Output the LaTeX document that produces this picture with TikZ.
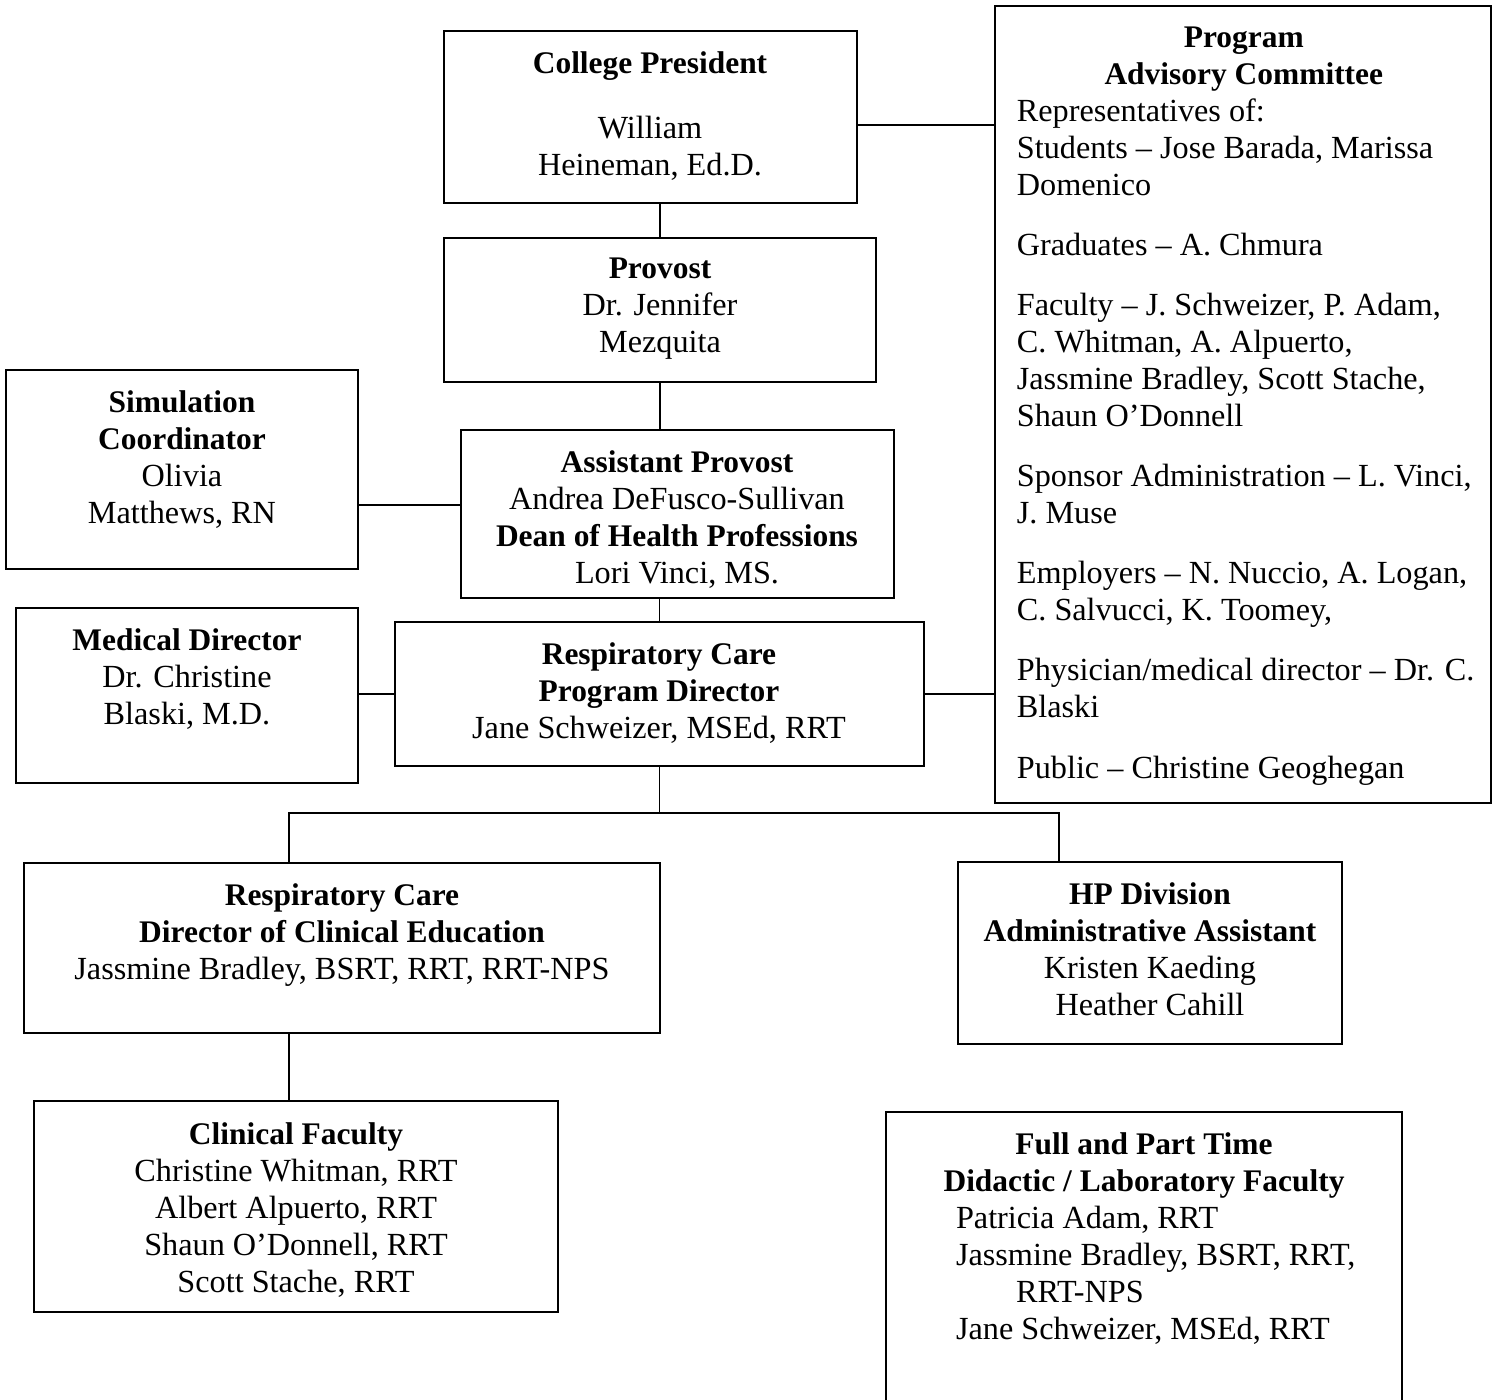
\documentclass[tikz,border=0pt]{standalone}
\usepackage{fontspec}
\setmainfont{Liberation Serif}[UprightFeatures={Scale=1.025}]
\begin{document}
\begin{tikzpicture}
  [x=0.02cm,y=-0.02cm,line width=1pt,
   box/.style={draw,inner sep=0pt},
   txt/.style={align=center,anchor=north,inner sep=0pt,font=\fontsize{17.9}{21}\selectfont}]
  \useasboundingbox (0,0) rectangle (1495,1400);
  \clip (0,0) rectangle (1495,1400);

  % boxes
  \node[box,minimum width=8.26cm,minimum height=3.44cm] (pres) at (650.5,117) {};
  \node[box,minimum width=9.92cm,minimum height=15.94cm] (pac) at (1243,404.5) {};
  \node[box,minimum width=8.64cm,minimum height=2.88cm] (prov) at (660,310) {};
  \node[box,minimum width=7.04cm,minimum height=3.98cm] (sim) at (182,469.5) {};
  \node[box,minimum width=8.66cm,minimum height=3.36cm] (ap) at (677.5,514) {};
  \node[box,minimum width=6.84cm,minimum height=3.5cm] (med) at (187,695.5) {};
  \node[box,minimum width=10.58cm,minimum height=2.88cm] (rcpd) at (659.5,694) {};
  \node[box,minimum width=12.72cm,minimum height=3.4cm] (dce) at (342,948) {};
  \node[box,minimum width=7.68cm,minimum height=3.64cm] (hp) at (1150,953) {};
  \node[box,minimum width=10.48cm,minimum height=4.22cm] (cf) at (296,1206.5) {};
  \node[box,minimum width=10.32cm,minimum height=5.96cm] (fpt) at (1144,1261) {};

  % texts
  \node[txt] (prest) at (650,51) {\textbf{College President}\\[15.9pt]William\\Heineman, Ed.D.};
  \node[txt,anchor=north west,align=flush left,text width=9.4cm] (pact) at (1016,26)
    {\makebox[9.08cm]{\textbf{Program}}\\
     \makebox[9.08cm]{\textbf{Advisory Committee}}\\
     Representatives of:\\
     Students – Jose Barada, Marissa\\
     Domenico\\[13.3pt]
     Graduates – A. Chmura\\[13.3pt]
     Faculty – J. Schweizer, P. Adam,\\
     C. Whitman, A. Alpuerto,\\
     Jassmine Bradley, Scott Stache,\\
     Shaun O’Donnell\\[13.3pt]
     Sponsor Administration – L. Vinci,\\
     J. Muse\\[13.3pt]
     Employers – N. Nuccio, A. Logan,\\
     C. Salvucci, K. Toomey,\\[13.3pt]
     Physician/medical director – Dr. C.\\
     Blaski\\[13.3pt]
     Public – Christine Geoghegan};
  \node[txt] (provt) at (660,257) {\textbf{Provost}\\Dr. Jennifer\\Mezquita};
  \node[txt] (simt) at (182,390) {\textbf{Simulation}\\\textbf{Coordinator}\\Olivia\\Matthews, RN};
  \node[txt] (apt) at (677,450) {\textbf{Assistant Provost}\\Andrea DeFusco-Sullivan\\\textbf{Dean of Health Professions}\\Lori Vinci, MS.};
  \node[txt] (medt) at (187,628) {\textbf{Medical Director}\\Dr. Christine\\Blaski, M.D.};
  \node[txt] (rcpdt) at (659,642) {\textbf{Respiratory Care}\\\textbf{Program Director}\\Jane Schweizer, MSEd, RRT};
  \node[txt] (dcet) at (342,883) {\textbf{Respiratory Care}\\\textbf{Director of Clinical Education}\\Jassmine Bradley, BSRT, RRT, RRT-NPS};
  \node[txt] (hpt) at (1150,882) {\textbf{HP Division}\\\textbf{Administrative Assistant}\\Kristen Kaeding\\Heather Cahill};
  \node[txt] (cft) at (296,1122) {\textbf{Clinical Faculty}\\Christine Whitman, RRT\\Albert Alpuerto, RRT\\Shaun O’Donnell, RRT\\Scott Stache, RRT};
  \node[txt,align=flush left,text width=9.52cm] (fptt) at (1144,1132)
    {\makebox[9.52cm]{\textbf{Full and Part Time}}\\
     \makebox[9.52cm]{\textbf{Didactic / Laboratory Faculty}}\\
     \hspace*{1cm}Patricia Adam, RRT\\
     \hspace*{1cm}Jassmine Bradley, BSRT, RRT,\\
     \hspace*{2.2cm}RRT-NPS\\
     \hspace*{1cm}Jane Schweizer, MSEd, RRT};

  % connectors
  \coordinate (jl) at (289,813);
  \coordinate (jr) at (1059,813);
  \coordinate (jm) at (rcpd.south |- jl);

  \draw (prov.north) -- (prov.north |- pres.south);
  \draw ([yshift=-4.5pt]pres.east) -- ([yshift=-4.5pt]pres.east -| pac.west);
  \draw (prov.south) -- (prov.south |- ap.north);
  \draw ([yshift=-20pt]sim.east) -- ([yshift=-20pt]sim.east -| ap.west);
  \draw (rcpd.north) -- (rcpd.north |- ap.south);
  \draw (rcpd.west) -- (rcpd.west -| med.east);
  \draw (rcpd.east) -- (rcpd.east -| pac.west);
  \draw (rcpd.south) -- (jm);
  \draw (dce.north -| jl) -- (jl) -- (jr) -- (hp.north -| jr);
  \draw (dce.south -| jl) -- (cf.north -| jl);
\end{tikzpicture}
\end{document}
